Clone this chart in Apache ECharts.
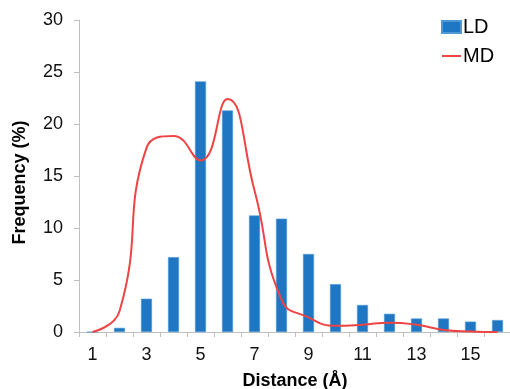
<!DOCTYPE html>
<html>
<head>
<meta charset="utf-8">
<script src="https://cdn.jsdelivr.net/npm/echarts@6/dist/echarts.min.js"></script>
<style>
html,body{margin:0;padding:0;background:#fff;overflow:hidden;}
#chart{width:510px;height:389px;}
</style>
</head>
<body>
<div id="chart"></div>
<script>
var categories = ['1','2','3','4','5','6','7','8','9','10','11','12','13','14','15','16'];
var ldValues = [0, 0.4, 3.2, 7.2, 24.1, 21.3, 11.2, 10.9, 7.5, 4.6, 2.6, 1.75, 1.3, 1.3, 1.0, 1.15];
var mdValues = [0, 2.0, 17.7, 18.85, 16.5, 22.4, 13.6, 3.1, 1.4, 0.6, 0.7, 0.9, 0.7, 0.2, 0.05, 0];
var yTicks = { min: 0, max: 30, interval: 5 };

var FONT = '"Liberation Sans", Arial, sans-serif';
var chart = echarts.init(document.getElementById('chart'), null, {renderer: 'canvas'});
chart.setOption({
  animation: false,
  backgroundColor: '#ffffff',
  textStyle: { fontFamily: FONT },
  grid: { left: 79, right: -1, top: 20, bottom: 57, containLabel: false, outerBoundsMode: 'none' },
  legend: {
    orient: 'vertical',
    left: 441, top: 17,
    padding: 0,
    itemWidth: 19, itemHeight: 12, itemGap: 9,
    textStyle: { fontFamily: FONT, fontSize: 20, color: '#000', padding: [0,0,0,-3] },
    data: [
      { name: 'LD', icon: 'rect' },
      { name: 'MD', itemStyle: { color: 'rgba(0,0,0,0)', borderWidth: 0, opacity: 0 } }
    ]
  },
  xAxis: {
    type: 'category',
    data: categories,
    boundaryGap: true,
    name: 'Distance (Å)',
    nameLocation: 'middle',
    nameGap: 40,
    nameTextStyle: { fontFamily: FONT, fontSize: 18, fontWeight: 'bold', color: '#000' },
    axisLine: { lineStyle: { color: '#c0c0c0', width: 1 } },
    axisTick: { show: true, interval: 0, alignWithLabel: false, length: 5, lineStyle: { color: '#c0c0c0' } },
    axisLabel: { interval: 1, fontSize: 18, color: '#111', margin: 14, fontFamily: FONT },
    splitLine: { show: false }
  },
  yAxis: {
    type: 'value',
    min: yTicks.min, max: yTicks.max, interval: yTicks.interval,
    name: 'Frequency (%)',
    nameLocation: 'middle',
    nameRotate: 90,
    nameGap: 50,
    nameTextStyle: { fontFamily: FONT, fontSize: 18, fontWeight: 'bold', color: '#000', padding: [0, 13, 0, 0] },
    axisLine: { show: true, lineStyle: { color: '#c0c0c0', width: 1 } },
    axisTick: { show: true, length: 5, lineStyle: { color: '#c0c0c0' } },
    axisLabel: { fontSize: 18, color: '#111', margin: 16, fontFamily: FONT },
    splitLine: { show: false }
  },
  series: [
    {
      name: 'LD',
      type: 'bar',
      data: ldValues,
      barWidth: 11,
      itemStyle: { color: '#1f77c3', borderColor: '#4f98d6', borderWidth: 0.6 }
    },
    {
      name: 'MD',
      type: 'line',
      data: mdValues,
      smooth: 0.5,
      symbol: 'none',
      lineStyle: { color: '#ee4444', width: 2 },
      itemStyle: { color: '#ee4444' }
    }
  ]
});
</script>
</body>
</html>
